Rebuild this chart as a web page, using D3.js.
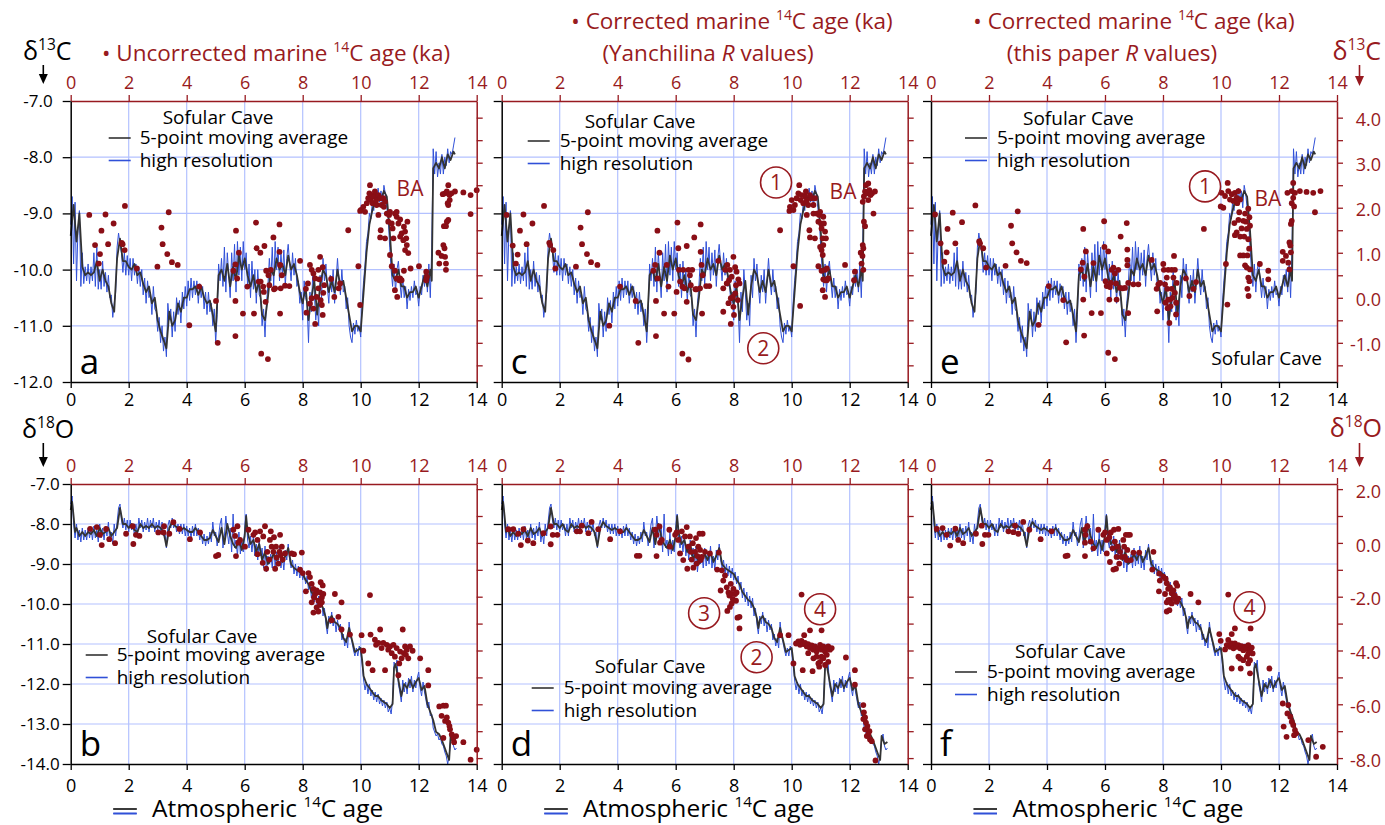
<!DOCTYPE html>
<html>
<head>
<meta charset="utf-8">
<title>Sofular Cave vs marine 14C ages</title>
<script src="https://d3js.org/d3.v7.min.js"></script>
<style>
  body { margin: 0; background: #fff; }
  svg text { font-family: "Open Sans", sans-serif; }
</style>
</head>
<body>
<script>
var w = 1385, h = 825;
var red = "#981a20", dotRed = "#8a0e16", gridBlue = "#b3c1ff", lineBlue = "#3050d8", lineBlack = "#333333";

// ---- tick values ----
var ageTicks = [0, 2, 4, 6, 8, 10, 12, 14];
var d13cTicks = [-7, -8, -9, -10, -11, -12];
var d18oTicks = [-7, -8, -9, -10, -11, -12, -13, -14];
var marineC13Ticks = [4, 3.5, 3, 2.5, 2, 1.5, 1, 0.5, 0, -0.5, -1, -1.5];
var marineO18Ticks = [2, 1, 0, -1, -2, -3, -4, -5, -6, -7, -8];

// ---- Sofular Cave d13C, 5-point moving average [age ka, permil] ----
var d13cMA = [[0,-9.4],[0.1,-8.85],[0.2,-9.5],[0.3,-9.0],[0.4,-9.95],[0.5,-10.1],[0.6,-10.05],[0.7,-10.1],[0.8,-10.05],[0.9,-9.85],
[1.0,-10.2],[1.1,-10.0],[1.2,-10.2],[1.3,-10.3],[1.4,-10.6],[1.5,-10.75],[1.6,-9.8],[1.7,-9.45],[1.8,-9.85],[1.9,-9.85],
[2.0,-9.95],[2.1,-10.0],[2.2,-9.9],[2.3,-10.1],[2.4,-10.05],[2.5,-10.25],[2.6,-10.4],[2.7,-10.3],[2.8,-10.6],[2.9,-10.5],
[3.0,-10.9],[3.1,-11.1],[3.2,-11.25],[3.3,-11.4],[3.4,-10.75],[3.5,-11.0],[3.6,-10.9],[3.7,-10.6],[3.8,-10.75],[3.9,-10.5],
[4.0,-10.5],[4.1,-10.35],[4.2,-10.35],[4.3,-10.3],[4.4,-10.45],[4.5,-10.3],[4.6,-10.5],[4.7,-10.6],[4.8,-10.55],[4.9,-10.8],
[5.0,-11.1],[5.1,-10.1],[5.2,-10.0],[5.3,-10.2],[5.4,-9.9],[5.5,-10.3],[5.6,-9.95],[5.7,-10.2],[5.8,-9.75],[5.9,-10.0],
[6.0,-9.8],[6.1,-10.1],[6.2,-10.3],[6.3,-10.1],[6.4,-10.4],[6.5,-10.2],[6.6,-10.8],[6.7,-10.9],[6.8,-10.5],[6.9,-10.0],
[7.0,-10.1],[7.1,-9.8],[7.2,-10.0],[7.3,-9.9],[7.4,-10.1],[7.5,-9.75],[7.6,-10.0],[7.7,-9.9],[7.8,-10.1],[7.9,-10.4],
[8.0,-10.6],[8.1,-10.3],[8.2,-10.9],[8.3,-10.5],[8.4,-10.2],[8.5,-10.8],[8.6,-10.3],[8.7,-10.0],[8.8,-10.1],[8.9,-10.4],
[9.0,-10.2],[9.1,-10.4],[9.2,-10.0],[9.3,-10.3],[9.4,-10.2],[9.5,-10.5],[9.6,-10.8],[9.7,-11.1],[9.8,-11.0],[9.9,-11.0],
[10.0,-11.1],[10.1,-10.4],[10.2,-9.7],[10.3,-9.2],[10.4,-8.95],[10.5,-8.75],[10.6,-8.7],[10.7,-8.75],[10.8,-8.6],[10.9,-8.7],
[11.0,-9.3],[11.1,-10.1],[11.2,-10.2],[11.3,-10.0],[11.4,-10.3],[11.5,-10.3],[11.6,-10.5],[11.7,-10.4],[11.8,-10.4],[11.9,-10.3],
[12.0,-10.5],[12.1,-10.3],[12.2,-10.1],[12.3,-10.3],[12.4,-10.0],[12.45,-10.2],[12.5,-8.2],[12.6,-8.1],[12.7,-8.2],[12.8,-8.0],
[12.9,-8.2],[13.0,-7.95],[13.1,-8.05],[13.2,-7.9],[13.25,-7.95]];

// ---- Sofular Cave d13C, high resolution ----
var d13cHR = [[0,-9.2],[0.05,-8.7],[0.1,-9.9],[0.15,-8.8],[0.2,-10.2],[0.25,-9.3],[0.3,-8.95],[0.35,-10.3],[0.4,-9.7],[0.45,-10.25],
[0.5,-9.95],[0.55,-10.2],[0.6,-9.9],[0.65,-10.25],[0.7,-9.95],[0.75,-10.2],[0.8,-9.7],[0.85,-10.3],[0.9,-9.6],[0.95,-10.35],
[1.0,-10.0],[1.05,-10.35],[1.1,-9.85],[1.15,-10.3],[1.2,-10.05],[1.25,-10.4],[1.3,-10.1],[1.35,-10.5],[1.4,-10.45],[1.45,-10.85],
[1.5,-10.6],[1.55,-10.4],[1.6,-9.6],[1.65,-9.35],[1.7,-9.55],[1.75,-9.7],[1.8,-10.05],[1.85,-9.7],[1.9,-10.1],[1.95,-9.75],
[2.0,-10.1],[2.05,-9.8],[2.1,-10.2],[2.15,-9.8],[2.2,-10.1],[2.25,-9.9],[2.3,-10.25],[2.35,-9.95],[2.4,-10.3],[2.45,-10.0],
[2.5,-10.45],[2.55,-10.15],[2.6,-10.6],[2.65,-10.2],[2.7,-10.5],[2.75,-10.4],[2.8,-10.8],[2.85,-10.3],[2.9,-10.7],[2.95,-10.75],
[3.0,-11.1],[3.05,-10.85],[3.1,-11.3],[3.15,-11.0],[3.2,-11.45],[3.25,-11.2],[3.3,-11.55],[3.35,-10.6],[3.4,-10.9],[3.45,-10.7],
[3.5,-11.2],[3.55,-10.75],[3.6,-11.1],[3.65,-10.5],[3.7,-10.8],[3.75,-10.55],[3.8,-10.95],[3.85,-10.4],[3.9,-10.7],[3.95,-10.3],
[4.0,-10.65],[4.05,-10.2],[4.1,-10.55],[4.15,-10.15],[4.2,-10.5],[4.25,-10.2],[4.3,-10.45],[4.35,-10.2],[4.4,-10.6],[4.45,-10.25],
[4.5,-10.5],[4.55,-10.3],[4.6,-10.7],[4.65,-10.4],[4.7,-10.8],[4.75,-10.4],[4.8,-10.75],[4.85,-10.6],[4.9,-11.0],[4.95,-10.7],
[5.0,-11.3],[5.05,-10.8],[5.1,-9.9],[5.15,-10.2],[5.2,-9.8],[5.25,-10.3],[5.3,-9.6],[5.35,-10.4],[5.4,-9.7],[5.45,-10.1],
[5.5,-10.5],[5.55,-9.7],[5.6,-10.2],[5.65,-9.55],[5.7,-10.4],[5.75,-9.5],[5.8,-10.1],[5.85,-9.6],[5.9,-10.2],[5.95,-9.5],
[6.0,-10.0],[6.05,-9.7],[6.1,-10.3],[6.15,-9.9],[6.2,-10.5],[6.25,-9.85],[6.3,-10.35],[6.35,-10.0],[6.4,-10.6],[6.45,-10.0],
[6.5,-10.45],[6.55,-10.5],[6.6,-11.0],[6.65,-10.7],[6.7,-11.2],[6.75,-10.6],[6.8,-10.3],[6.85,-9.8],[6.9,-10.2],[6.95,-9.6],
[7.0,-10.3],[7.05,-9.5],[7.1,-10.0],[7.15,-9.6],[7.2,-10.2],[7.25,-9.7],[7.3,-10.1],[7.35,-9.65],[7.4,-10.3],[7.45,-9.8],
[7.5,-9.55],[7.55,-9.9],[7.6,-10.2],[7.65,-9.7],[7.7,-10.1],[7.75,-9.8],[7.8,-10.3],[7.85,-10.2],[7.9,-10.6],[7.95,-10.4],
[8.0,-10.9],[8.05,-10.2],[8.1,-10.5],[8.15,-10.6],[8.2,-11.3],[8.25,-10.4],[8.3,-10.75],[8.35,-10.0],[8.4,-10.4],[8.45,-10.9],
[8.5,-10.6],[8.55,-11.0],[8.6,-10.1],[8.65,-10.5],[8.7,-9.8],[8.75,-10.2],[8.8,-9.9],[8.85,-10.3],[8.9,-10.6],[8.95,-10.1],
[9.0,-10.4],[9.05,-10.0],[9.1,-10.6],[9.15,-10.2],[9.2,-9.8],[9.25,-10.2],[9.3,-10.45],[9.35,-10.0],[9.4,-10.4],[9.45,-10.3],
[9.5,-10.7],[9.55,-10.5],[9.6,-11.0],[9.65,-11.2],[9.7,-11.3],[9.75,-10.95],[9.8,-11.15],[9.85,-10.9],[9.9,-11.1],[9.95,-11.0],
[10.0,-11.2],[10.05,-10.6],[10.1,-10.2],[10.15,-9.9],[10.2,-9.5],[10.25,-9.35],[10.3,-9.0],[10.35,-9.1],[10.4,-8.8],[10.45,-8.95],
[10.5,-8.6],[10.55,-8.85],[10.6,-8.55],[10.65,-8.8],[10.7,-8.6],[10.75,-8.9],[10.8,-8.5],[10.85,-8.65],[10.9,-8.9],[10.95,-9.1],
[11.0,-9.6],[11.05,-10.0],[11.1,-10.3],[11.15,-9.9],[11.2,-10.4],[11.25,-10.0],[11.3,-9.85],[11.35,-10.2],[11.4,-10.5],[11.45,-10.15],
[11.5,-10.5],[11.55,-10.3],[11.6,-10.7],[11.65,-10.35],[11.7,-10.55],[11.75,-10.3],[11.8,-10.5],[11.85,-10.2],[11.9,-10.45],[11.95,-10.4],
[12.0,-10.65],[12.05,-10.3],[12.1,-10.45],[12.15,-10.1],[12.2,-10.3],[12.25,-10.0],[12.3,-10.4],[12.35,-9.9],[12.4,-10.5],[12.45,-9.6],
[12.5,-7.85],[12.55,-8.3],[12.6,-7.9],[12.65,-8.35],[12.7,-8.1],[12.75,-8.3],[12.8,-7.95],[12.85,-8.3],[12.9,-8.0],[12.95,-8.15],
[13.0,-7.85],[13.05,-8.1],[13.1,-7.9],[13.15,-7.95],[13.2,-7.8],[13.25,-7.65]];

// ---- Sofular Cave d18O, 5-point moving average ----
var d18oMA = [[0,-7.65],[0.05,-7.45],[0.1,-7.8],[0.15,-8.2],[0.2,-8.1],[0.3,-8.3],[0.4,-8.2],[0.5,-8.3],[0.6,-8.2],[0.7,-8.25],
[0.8,-8.15],[0.9,-8.3],[1.0,-8.1],[1.1,-8.25],[1.2,-8.2],[1.3,-8.1],[1.4,-8.3],[1.5,-8.2],[1.6,-8.1],[1.7,-7.6],
[1.8,-8.0],[1.9,-8.0],[2.0,-8.1],[2.1,-8.0],[2.2,-8.15],[2.3,-8.2],[2.4,-8.0],[2.5,-8.1],[2.6,-8.05],[2.7,-8.1],
[2.8,-8.0],[2.9,-8.1],[3.0,-8.05],[3.1,-8.1],[3.2,-8.2],[3.3,-8.55],[3.4,-8.1],[3.5,-7.95],[3.6,-8.05],[3.7,-8.1],
[3.8,-8.15],[3.9,-8.1],[4.0,-8.15],[4.1,-8.2],[4.2,-8.2],[4.3,-8.1],[4.4,-8.2],[4.5,-8.3],[4.6,-8.4],[4.7,-8.4],
[4.8,-8.35],[4.9,-8.15],[5.0,-8.3],[5.1,-8.45],[5.2,-8.1],[5.3,-8.5],[5.4,-8.0],[5.5,-8.3],[5.6,-8.5],[5.7,-8.6],
[5.8,-8.4],[5.9,-8.65],[6.0,-8.3],[6.05,-7.8],[6.1,-8.2],[6.2,-8.5],[6.3,-8.4],[6.4,-8.7],[6.5,-8.5],[6.6,-8.9],
[6.7,-8.7],[6.8,-9.0],[6.9,-8.9],[7.0,-8.75],[7.1,-8.9],[7.2,-8.7],[7.3,-8.95],[7.4,-8.8],[7.5,-8.6],[7.6,-9.0],
[7.7,-9.1],[7.8,-9.15],[7.9,-9.2],[8.0,-9.25],[8.1,-9.4],[8.2,-9.5],[8.3,-9.7],[8.4,-9.8],[8.5,-9.9],[8.6,-9.95],
[8.7,-10.1],[8.8,-10.35],[8.85,-10.6],[8.9,-10.4],[9.0,-10.3],[9.1,-10.45],[9.2,-10.5],[9.3,-10.6],[9.4,-10.85],[9.5,-10.95],
[9.6,-10.6],[9.7,-10.9],[9.8,-11.2],[9.9,-11.15],[10.0,-11.1],[10.05,-11.4],[10.1,-11.8],[10.2,-12.0],[10.3,-12.1],[10.4,-12.2],
[10.5,-12.3],[10.6,-12.3],[10.7,-12.4],[10.8,-12.45],[10.9,-12.5],[11.0,-12.6],[11.1,-12.5],[11.15,-11.6],[11.2,-11.5],[11.3,-11.9],
[11.4,-12.3],[11.5,-12.0],[11.6,-12.1],[11.7,-11.9],[11.8,-12.1],[11.9,-11.95],[12.0,-11.85],[12.1,-12.15],[12.2,-12.05],[12.3,-12.5],
[12.4,-12.7],[12.5,-12.9],[12.6,-13.2],[12.7,-13.25],[12.8,-13.4],[12.9,-13.6],[13.0,-13.8],[13.05,-13.9],[13.1,-13.3],[13.2,-13.5],
[13.3,-13.45]];

// ---- Sofular Cave d18O, high resolution ----
var d18oHR = [[0,-7.5],[0.05,-7.3],[0.1,-8.0],[0.15,-8.35],[0.2,-8.0],[0.25,-8.4],[0.3,-8.15],[0.35,-8.45],[0.4,-8.1],[0.45,-8.4],
[0.5,-8.15],[0.55,-8.4],[0.6,-8.1],[0.65,-8.35],[0.7,-8.1],[0.75,-8.4],[0.8,-8.05],[0.85,-8.35],[0.9,-8.15],[0.95,-8.45],
[1.0,-8.0],[1.05,-8.35],[1.1,-8.1],[1.15,-8.4],[1.2,-8.05],[1.25,-8.3],[1.3,-7.95],[1.35,-8.45],[1.4,-8.2],[1.45,-8.5],
[1.5,-8.0],[1.55,-8.3],[1.6,-7.95],[1.65,-7.6],[1.7,-7.5],[1.75,-7.9],[1.8,-8.1],[1.85,-7.85],[1.9,-8.15],[1.95,-7.9],
[2.0,-8.2],[2.05,-7.9],[2.1,-8.15],[2.15,-8.0],[2.2,-8.3],[2.25,-8.0],[2.3,-8.3],[2.35,-7.85],[2.4,-8.1],[2.45,-7.9],
[2.5,-8.2],[2.55,-7.95],[2.6,-8.15],[2.65,-7.85],[2.7,-8.2],[2.75,-7.9],[2.8,-8.1],[2.85,-7.85],[2.9,-8.2],[2.95,-7.95],
[3.0,-8.15],[3.05,-7.9],[3.1,-8.2],[3.15,-7.95],[3.2,-8.3],[3.25,-8.2],[3.3,-8.6],[3.35,-8.05],[3.4,-7.9],[3.45,-8.1],
[3.5,-7.85],[3.55,-8.1],[3.6,-7.9],[3.65,-8.2],[3.7,-8.0],[3.75,-8.25],[3.8,-8.0],[3.85,-8.25],[3.9,-8.0],[3.95,-8.3],
[4.0,-8.05],[4.05,-8.3],[4.1,-8.1],[4.15,-8.35],[4.2,-8.05],[4.25,-8.3],[4.3,-8.0],[4.35,-8.3],[4.4,-8.1],[4.45,-8.4],
[4.5,-8.2],[4.55,-8.5],[4.6,-8.25],[4.65,-8.55],[4.7,-8.3],[4.75,-8.5],[4.8,-8.2],[4.85,-8.45],[4.9,-7.95],[4.95,-8.3],
[5.0,-8.2],[5.05,-8.55],[5.1,-8.3],[5.15,-8.0],[5.2,-7.85],[5.25,-8.6],[5.3,-8.3],[5.35,-7.8],[5.4,-8.2],[5.45,-8.5],
[5.5,-8.1],[5.55,-8.7],[5.6,-7.75],[5.65,-8.6],[5.7,-8.4],[5.75,-8.8],[5.8,-8.2],[5.85,-8.75],[5.9,-8.4],[5.95,-8.7],
[6.0,-8.1],[6.05,-7.75],[6.1,-8.4],[6.15,-8.6],[6.2,-8.3],[6.25,-8.7],[6.3,-8.3],[6.35,-8.8],[6.4,-8.5],[6.45,-8.9],
[6.5,-8.4],[6.55,-8.8],[6.6,-8.6],[6.65,-9.1],[6.7,-8.55],[6.75,-9.2],[6.8,-8.8],[6.85,-9.0],[6.9,-8.75],[6.95,-9.1],
[7.0,-8.6],[7.05,-9.05],[7.1,-8.7],[7.15,-9.0],[7.2,-8.55],[7.25,-9.1],[7.3,-8.8],[7.35,-9.15],[7.4,-8.65],[7.45,-8.9],
[7.5,-8.5],[7.55,-8.9],[7.6,-9.1],[7.65,-8.9],[7.7,-9.25],[7.75,-9.0],[7.8,-9.3],[7.85,-9.05],[7.9,-9.35],[7.95,-9.1],
[8.0,-9.4],[8.05,-9.2],[8.1,-9.5],[8.15,-9.3],[8.2,-9.65],[8.25,-9.45],[8.3,-9.85],[8.35,-9.6],[8.4,-9.95],[8.45,-9.7],
[8.5,-10.05],[8.55,-9.8],[8.6,-10.1],[8.65,-9.85],[8.7,-10.3],[8.75,-10.1],[8.8,-10.5],[8.85,-10.75],[8.9,-10.3],[8.95,-10.5],
[9.0,-10.2],[9.05,-10.55],[9.1,-10.35],[9.15,-10.7],[9.2,-10.4],[9.25,-10.65],[9.3,-10.5],[9.35,-10.9],[9.4,-10.75],[9.45,-11.05],
[9.5,-10.85],[9.55,-11.1],[9.6,-10.45],[9.65,-10.8],[9.7,-10.95],[9.75,-11.15],[9.8,-11.3],[9.85,-11.1],[9.9,-11.3],[9.95,-11.05],
[10.0,-11.2],[10.05,-11.5],[10.1,-11.9],[10.15,-12.15],[10.2,-11.95],[10.25,-12.25],[10.3,-12.0],[10.35,-12.3],[10.4,-12.15],[10.45,-12.4],
[10.5,-12.2],[10.55,-12.45],[10.6,-12.25],[10.65,-12.5],[10.7,-12.35],[10.75,-12.55],[10.8,-12.4],[10.85,-12.6],[10.9,-12.45],[10.95,-12.7],
[11.0,-12.6],[11.05,-12.75],[11.1,-12.4],[11.15,-11.45],[11.2,-11.6],[11.25,-11.4],[11.3,-12.0],[11.35,-12.2],[11.4,-12.45],[11.45,-11.9],
[11.5,-12.2],[11.55,-11.95],[11.6,-12.25],[11.65,-11.85],[11.7,-12.1],[11.75,-11.8],[11.8,-12.2],[11.85,-11.9],[11.9,-12.1],[11.95,-11.85],
[12.0,-11.7],[12.05,-12.1],[12.1,-12.3],[12.15,-11.95],[12.2,-12.2],[12.25,-12.4],[12.3,-12.6],[12.35,-12.45],[12.4,-12.8],[12.45,-12.75],
[12.5,-13.1],[12.55,-13.2],[12.6,-13.3],[12.65,-13.25],[12.7,-13.4],[12.75,-13.35],[12.8,-13.5],[12.85,-13.55],[12.9,-13.7],[12.95,-13.8],
[13.0,-14.0],[13.05,-13.8],[13.1,-13.4],[13.15,-13.25],[13.2,-13.55],[13.25,-13.65],[13.3,-13.6]];

// ---- marine d13C points [marine 14C age ka, permil] ----
var ptsA = [[0.64,1.84],[0.84,1.17],[0.97,0.76],[1.01,0.97],[1.06,1.49],[1.2,1.85],[1.29,1.19],[1.48,1.65],[1.87,2.04],[1.76,1.22],
[1.79,1.19],[1.86,1.06],[2.28,0.65],[2.99,0.69],[3.13,1.56],[3.17,1.19],[3.33,0.97],[3.38,1.9],[3.49,0.79],[3.69,0.73],
[4.43,0.25],[4.09,-0.61],[5.01,-0.07],[5.07,-1.0],[5.61,0.6],[5.68,-0.07],[5.7,1.49],[5.68,0.74],[5.74,0.43],[5.8,1.0],
[5.68,-0.85],[5.94,-0.35],[6.09,0.25],[6.39,1.67],[6.41,1.1],[6.32,-0.35],[6.54,1.0],[6.55,0.36],[6.68,1.15],[6.48,0.36],
[6.64,0.25],[6.66,0.13],[6.57,-1.24],[6.8,-1.36],[6.72,-0.09],[6.74,0.6],[6.82,0.5],[6.85,0.28],[6.9,0.62],[6.99,1.34],
[7.01,0.19],[7.05,0.21],[7.2,1.63],[7.2,1.02],[7.22,0.73],[7.22,-0.35],[7.28,0.5],[7.24,0.21],[7.39,0.27],[7.54,0.26],
[7.91,0.82],[8.25,0.73],[8.31,0.62],[8.37,0.54],[8.43,0.43],[8.11,0.2],[8.13,-0.33],[8.25,-0.13],[8.31,-0.01],[8.37,-0.24],
[8.43,-0.58],[8.48,0.02],[8.54,0.62],[8.57,0.41],[8.6,0.91],[8.62,-0.05],[8.66,-0.16],[8.69,-0.38],[8.69,0.68],[8.71,0.11],
[8.74,0.28],[8.18,0.32],[8.54,0.21],[8.98,0.42],[9.09,0.02],[9.24,0.21],[9.29,0.32],[9.57,1.5],[9.92,0.7],[9.98,1.93],
[9.98,-0.16],[10.01,1.95],[10.09,2.02],[10.15,1.91],[10.21,2.1],[10.26,2.21],[10.3,2.32],[10.32,2.5],[10.34,2.17],[10.38,2.28],
[10.41,2.1],[10.46,2.25],[10.49,2.36],[10.53,2.16],[10.55,2.06],[10.61,2.28],[10.67,2.21],[10.72,2.06],[10.78,2.21],[10.84,2.13],
[10.61,1.84],[10.69,1.5],[10.67,1.34],[10.8,2.02],[10.84,1.32],[10.9,1.87],[10.95,1.69],[10.98,1.84],[11.01,1.91],[11.07,1.65],
[11.1,1.54],[11.01,0.95],[11.13,1.32],[11.18,1.87],[11.24,1.8],[11.3,1.65],[11.36,1.36],[11.41,1.43],[11.49,1.58],[11.53,1.47],
[11.57,1.32],[11.59,1.17],[11.61,1.69],[11.53,1.06],[11.64,0.99],[11.47,1.28],[11.24,1.91],[11.36,1.74],[11.07,0.7],[11.18,0.6],
[11.24,0.43],[11.33,0.39],[11.18,0.17],[11.26,0.02],[11.36,0.43],[11.41,0.39],[11.49,0.6],[11.72,0.65],[12.01,0.7],[12.26,0.58],
[12.26,0.39],[12.28,0.47],[12.68,1.0],[12.71,0.76],[12.79,0.93],[12.85,1.17],[12.89,1.1],[12.91,0.91],[12.94,0.76],[12.94,0.62],
[12.87,1.59],[12.94,1.59],[12.97,1.69],[13.02,1.73],[12.83,2.3],[12.91,2.32],[12.97,2.36],[13.02,2.5],[13.06,2.28],[13.07,2.17],
[13.02,2.06],[13.13,2.32],[13.0,2.1],[13.25,2.36],[13.54,2.34],[13.79,2.28],[13.79,1.86],[14.0,2.39]];

var ptsC = [[0.17,1.84],[0.38,1.16],[0.49,0.76],[0.55,0.96],[0.63,1.49],[0.75,1.85],[0.86,1.19],[1.06,1.65],[1.46,2.04],[1.64,1.22],
[1.67,1.17],[1.78,1.06],[1.85,0.65],[2.56,0.69],[2.72,1.56],[2.77,1.19],[2.94,0.97],[2.97,1.9],[3.08,0.79],[3.3,0.73],
[3.71,-0.62],[4.08,0.25],[4.71,-1.0],[4.62,-0.07],[5.23,0.6],[5.29,0.73],[5.32,-0.07],[5.32,-0.85],[5.37,1.49],[5.38,0.43],
[5.44,1.0],[5.6,-0.35],[5.75,0.25],[5.69,0.73],[5.95,-0.35],[6.06,1.67],[6.03,0.13],[6.09,1.1],[6.11,0.62],[6.15,0.36],
[6.23,0.25],[6.23,-1.24],[6.26,0.62],[6.3,0.21],[6.38,1.15],[6.38,-0.09],[6.44,0.62],[6.44,-1.37],[6.49,0.5],[6.52,0.28],
[6.57,0.62],[6.64,1.34],[6.68,0.19],[6.72,0.19],[6.86,1.63],[6.86,1.02],[6.89,0.73],[6.91,-0.35],[6.93,0.5],[6.84,0.21],
[7.05,0.26],[7.16,0.26],[7.47,0.82],[7.64,-0.31],[7.64,0.21],[7.71,0.62],[7.76,0.32],[7.78,0.73],[7.82,-0.12],[7.84,0.39],
[7.87,0.62],[7.9,-0.01],[7.9,-0.58],[7.93,0.47],[7.97,0.02],[7.99,0.91],[7.99,-0.2],[8.01,-0.38],[8.05,0.68],[8.05,0.1],
[8.08,0.28],[8.1,0.58],[8.14,-0.05],[8.16,0.41],[8.2,0.32],[9.6,1.5],[10.06,0.7],[10.29,-0.18],[9.92,1.93],[9.94,2.02],
[10.0,2.17],[10.06,1.95],[10.11,2.06],[10.17,2.21],[10.23,2.32],[10.26,2.5],[10.31,2.17],[10.34,2.28],[10.4,2.1],[10.46,2.25],
[10.49,2.36],[10.52,2.16],[10.57,2.06],[10.63,2.28],[10.67,2.21],[10.52,1.84],[10.75,2.06],[10.8,2.21],[10.61,1.5],[10.63,1.34],
[10.75,1.87],[10.8,1.32],[10.86,1.87],[10.92,1.69],[10.95,1.84],[10.98,1.91],[11.01,1.65],[11.03,1.54],[10.92,0.7],[11.07,1.32],
[11.09,1.8],[11.11,1.65],[11.15,1.47],[11.18,1.32],[11.09,1.17],[11.03,1.06],[11.07,0.95],[10.98,1.13],[11.15,0.62],[11.21,0.65],
[11.09,0.41],[11.15,0.39],[11.07,0.17],[11.15,0.02],[11.21,0.39],[11.26,0.43],[11.03,0.6],[11.84,0.73],[12.15,0.39],[12.18,0.58],
[12.38,1.0],[12.41,0.76],[12.44,0.93],[12.45,1.17],[12.47,1.1],[12.47,0.62],[12.49,1.69],[12.53,1.59],[12.45,2.13],[12.49,2.25],
[12.53,2.36],[12.56,2.5],[12.61,2.32],[12.64,2.17],[12.68,2.39],[12.72,2.28],[12.77,2.32],[12.82,1.87],[12.87,2.36],[12.64,2.54]];

var ptsE = [[0.14,1.85],[0.33,1.21],[0.46,0.8],[0.54,1.01],[0.57,1.53],[0.75,1.89],[0.84,1.21],[1.07,1.68],[1.53,2.05],[1.66,1.25],
[1.69,1.21],[1.8,1.1],[1.9,0.67],[2.57,0.71],[2.76,1.6],[2.8,1.21],[2.95,1.01],[2.99,1.92],[3.1,0.82],[3.3,0.77],
[3.71,-0.6],[4.06,0.26],[4.56,-0.05],[4.66,-0.99],[5.25,1.53],[5.23,0.78],[5.25,-0.04],[5.28,-0.84],[5.17,0.63],[5.29,0.47],
[5.34,1.03],[5.54,-0.34],[5.6,0.77],[5.86,-0.34],[5.97,1.7],[5.98,1.13],[6.02,0.37],[6.06,0.26],[6.11,1.03],[6.11,-1.22],
[6.15,-0.04],[6.17,0.24],[6.2,0.33],[6.23,0.62],[6.29,0.67],[6.34,0.54],[6.34,-1.36],[6.38,0.32],[6.4,-0.04],[6.46,0.62],
[6.52,0.22],[6.54,1.36],[6.61,0.21],[6.69,0.22],[6.75,1.66],[6.77,1.07],[6.77,0.84],[6.77,0.72],[6.8,-0.34],[6.8,0.33],
[6.98,0.3],[7.15,0.3],[7.61,0.84],[7.78,0.2],[7.8,-0.3],[7.84,0.3],[7.9,0.33],[8.01,0.75],[8.03,0.62],[8.07,0.3],
[8.09,-0.11],[8.13,0.45],[8.15,0.2],[8.16,-0.23],[8.18,0.62],[8.18,-0.04],[8.22,-0.56],[8.24,-0.04],[8.26,-0.19],[8.3,0.62],
[8.3,0.2],[8.33,0.0],[8.36,0.45],[8.38,0.93],[8.41,0.62],[8.41,0.11],[8.45,-0.37],[8.45,-0.11],[8.47,0.33],[8.79,0.43],
[8.91,0.04],[9.05,0.2],[9.14,0.35],[9.41,1.53],[10.17,0.75],[10.22,-0.15],[10.23,2.55],[10.02,2.33],[10.14,2.26],[10.25,2.37],
[10.31,2.18],[10.37,2.3],[10.43,2.15],[10.48,2.33],[10.54,2.22],[10.6,2.37],[10.66,2.18],[9.99,2.03],[10.08,2.0],[10.56,2.1],
[10.46,1.66],[10.48,1.39],[10.54,1.45],[10.6,1.73],[10.63,1.9],[10.66,1.36],[10.71,1.54],[10.77,1.71],[10.8,1.36],[10.83,1.87],
[10.86,1.69],[10.89,1.53],[10.91,0.94],[10.94,1.98],[10.94,1.3],[10.97,1.09],[10.98,1.79],[11.0,1.6],[10.66,0.94],[10.77,0.94],
[10.83,0.72],[10.89,0.67],[10.94,0.45],[10.98,0.37],[10.91,0.2],[10.95,0.04],[11.0,0.63],[11.34,0.75],[11.63,0.6],[11.63,0.41],
[12.13,0.82],[12.13,1.02],[12.24,0.93],[12.32,0.78],[12.36,0.63],[12.36,1.23],[12.39,1.16],[12.41,1.64],[12.44,1.71],[12.41,1.01],
[12.49,2.55],[12.29,2.33],[12.44,2.37],[12.49,2.22],[12.55,2.33],[12.72,2.37],[12.95,2.35],[13.18,2.33],[13.43,2.37],[12.44,2.1],
[12.52,2.03],[13.24,1.9]];

// ---- marine d18O points ----
var ptsB = [[0.67,0.52],[0.9,0.59],[1.01,0.3],[1.07,-0.08],[1.22,0.52],[1.33,0.14],[1.53,-0.01],[1.91,0.34],[2.14,0.62],[2.16,-0.04],
[2.25,0.3],[2.37,0.26],[3.02,0.39],[3.2,0.39],[3.22,0.62],[3.4,0.34],[3.54,0.77],[3.75,0.52],[4.11,0.14],[4.46,0.39],
[5.01,-0.49],[5.09,-0.45],[5.61,0.49],[5.67,0.26],[5.75,0.62],[5.78,0.01],[5.7,-0.49],[5.84,0.11],[6.01,-0.14],[6.13,0.49],
[6.3,0.3],[6.36,0.39],[6.44,0.11],[6.44,-0.42],[6.53,0.43],[6.64,0.24],[6.62,-0.74],[6.7,0.62],[6.74,-0.96],[6.78,-0.33],
[6.85,-0.62],[6.87,0.11],[6.9,0.43],[6.93,-0.14],[6.99,-0.33],[7.01,0.21],[7.05,-0.96],[7.08,-0.14],[7.1,-0.54],[7.16,-0.77],
[7.22,0.3],[7.2,-0.33],[7.24,-0.45],[7.28,-0.14],[7.31,-0.62],[7.39,-0.39],[7.62,-0.39],[7.7,-0.42],[7.97,-0.36],[7.91,-0.99],
[8.0,-1.12],[8.2,-1.12],[8.25,-1.27],[8.31,-1.52],[8.11,-1.8],[8.37,-1.71],[8.43,-1.9],[8.48,-1.77],[8.54,-2.15],[8.6,-1.84],
[8.62,-1.46],[8.66,-2.03],[8.69,-1.58],[8.71,-1.9],[8.31,-2.21],[8.37,-2.59],[8.48,-2.4],[8.54,-2.55],[8.6,-2.3],[8.66,-2.21],
[8.39,-2.03],[9.11,-1.9],[9.34,-2.21],[10.32,-1.94],[9.0,-2.88],[9.23,-2.75],[9.34,-3.22],[9.63,-3.41],[10.03,-3.43],[10.09,-4.01],
[10.26,-4.48],[10.34,-3.41],[10.41,-4.73],[10.49,-3.6],[10.53,-3.79],[10.61,-3.72],[10.67,-3.22],[10.72,-3.91],[10.78,-3.72],[10.84,-4.73],
[10.9,-3.79],[10.95,-3.97],[11.01,-3.85],[11.07,-4.1],[11.13,-3.79],[11.18,-4.23],[11.24,-3.91],[11.3,-4.92],[11.33,-4.48],[11.36,-4.04],
[11.41,-4.29],[11.45,-3.22],[11.49,-4.1],[11.53,-3.85],[11.56,-4.16],[11.59,-3.97],[11.64,-4.29],[11.7,-3.85],[11.79,-4.01],[12.05,-4.29],
[12.33,-4.73],[12.33,-5.3],[12.71,-6.08],[12.79,-6.43],[12.85,-6.05],[12.91,-6.62],[12.94,-6.05],[12.97,-6.49],[13.02,-6.68],[13.06,-6.81],
[13.08,-6.93],[13.14,-7.12],[13.2,-7.25],[13.29,-7.18],[12.85,-7.25],[13.22,-7.41],[13.54,-7.41],[13.79,-8.06],[14.0,-7.69]];

var ptsD = [[0.23,0.51],[0.4,0.51],[0.57,0.34],[0.66,-0.08],[0.75,0.51],[0.9,0.09],[1.09,-0.01],[1.44,0.36],[1.69,0.61],[1.69,-0.05],
[1.76,0.3],[1.92,0.3],[2.59,0.43],[2.7,0.43],[2.76,0.64],[2.99,0.36],[3.1,0.78],[3.33,0.51],[3.74,0.14],[4.08,0.43],
[4.66,-0.48],[4.75,-0.48],[5.29,0.49],[5.34,0.3],[5.44,0.61],[5.46,0.01],[5.34,-0.49],[5.52,0.11],[5.78,0.49],[5.8,-0.14],
[5.98,0.3],[6.03,0.39],[6.09,0.11],[6.15,-0.39],[6.21,0.43],[6.26,-0.64],[6.32,0.24],[6.38,0.59],[6.4,-0.96],[6.44,-0.14],
[6.49,0.24],[6.52,-0.33],[6.55,-0.62],[6.59,-0.01],[6.61,-0.92],[6.67,-0.33],[6.7,0.18],[6.72,-0.77],[6.75,-0.49],[6.78,-0.14],
[6.82,0.34],[6.84,-0.26],[6.86,-0.64],[6.9,-0.52],[6.93,0.34],[7.01,-0.33],[7.18,-0.39],[7.49,-0.36],[7.43,-0.99],[7.59,-1.02],
[7.64,-1.4],[7.7,-1.21],[7.55,-1.77],[7.76,-1.65],[7.82,-1.84],[7.85,-1.96],[7.9,-1.52],[7.93,-1.9],[7.97,-2.09],[7.99,-1.71],
[8.05,-1.9],[8.08,-2.15],[8.1,-1.84],[7.78,-2.53],[7.87,-2.38],[7.93,-2.25],[8.13,-2.78],[8.2,-2.75],[8.2,-3.18],[9.6,-3.43],
[9.89,-3.43],[10.15,-3.74],[10.06,-4.48],[10.38,-4.73],[10.34,-1.92],[10.43,-3.43],[10.63,-3.25],[10.72,-4.77],[11.03,-3.25],[11.87,-4.26],
[10.23,-3.66],[10.29,-3.79],[10.34,-3.64],[10.4,-3.76],[10.46,-3.72],[10.52,-3.85],[10.57,-3.76],[10.63,-3.91],[10.69,-3.81],[10.75,-3.97],
[10.8,-3.85],[10.86,-4.04],[10.92,-3.91],[10.98,-3.79],[11.03,-3.97],[11.09,-3.85],[11.15,-4.04],[11.21,-3.91],[11.26,-3.85],[11.32,-3.97],
[11.38,-3.91],[10.57,-4.1],[10.75,-4.29],[10.86,-4.23],[10.92,-4.48],[10.98,-4.42],[11.03,-4.23],[11.09,-4.29],[11.15,-4.54],[11.21,-4.16],
[11.26,-4.42],[10.95,-4.6],[12.18,-4.73],[12.18,-5.27],[12.47,-6.03],[12.49,-6.3],[12.53,-6.49],[12.56,-6.68],[12.59,-6.93],[12.61,-6.81],
[12.64,-7.12],[12.68,-7.0],[12.7,-7.31],[12.59,-7.18],[12.76,-7.37],[12.89,-8.09],[12.47,-6.55],[12.53,-6.93]];

var ptsF = [[0.2,0.52],[0.4,0.55],[0.54,0.3],[0.66,-0.1],[0.84,0.53],[0.94,0.11],[1.11,-0.01],[1.55,0.34],[1.75,0.64],[1.77,-0.04],
[1.86,0.3],[1.98,0.3],[2.67,0.43],[2.84,0.4],[2.9,0.64],[3.01,0.34],[3.18,0.78],[3.39,0.49],[3.78,0.14],[4.16,0.43],
[4.64,-0.49],[4.71,-0.47],[5.31,0.49],[5.33,0.3],[5.39,0.62],[5.31,0.01],[5.31,-0.49],[5.51,0.05],[5.6,-0.2],[5.77,0.49],
[5.94,0.3],[6.0,0.39],[6.06,0.11],[6.06,-0.39],[6.15,0.21],[6.17,-0.71],[6.2,0.39],[6.26,-0.2],[6.29,-0.99],[6.31,0.49],
[6.34,0.05],[6.38,-0.96],[6.4,-0.52],[6.43,-0.14],[6.46,0.52],[6.49,-0.77],[6.52,-0.33],[6.57,-0.52],[6.63,0.11],[6.66,-0.14],
[6.69,-0.52],[6.72,0.3],[6.75,-0.64],[6.77,-0.26],[6.8,0.3],[6.86,0.3],[6.89,-0.64],[6.98,-0.36],[7.18,-0.36],[7.67,-0.33],
[7.63,-0.99],[7.87,-1.14],[8.01,-1.25],[8.09,-1.33],[7.89,-1.4],[8.13,-1.5],[8.18,-1.71],[8.24,-1.65],[8.3,-1.87],[8.36,-1.77],
[8.41,-1.96],[8.45,-1.5],[8.49,-1.59],[7.86,-1.8],[8.07,-1.9],[8.13,-2.21],[8.24,-2.12],[8.36,-2.05],[8.13,-2.55],[8.22,-2.5],
[8.95,-1.9],[9.22,-2.21],[10.25,-1.92],[8.18,-2.13],[8.3,-2.25],[8.47,-2.19],[8.53,-2.07],[9.94,-3.39],[9.99,-3.64],[10.37,-3.39],
[10.48,-3.18],[11.02,-3.18],[10.14,-3.96],[10.2,-3.8],[10.25,-3.61],[10.31,-3.86],[10.37,-3.74],[10.43,-3.92],[10.48,-3.74],[10.54,-3.86],
[10.6,-3.8],[10.66,-3.92],[10.71,-3.84],[10.77,-3.99],[10.83,-3.86],[10.89,-3.92],[10.94,-3.8],[11.0,-3.99],[11.06,-3.89],[11.09,-4.11],
[10.6,-4.23],[10.66,-4.3],[10.77,-4.36],[10.89,-4.23],[11.0,-4.36],[10.94,-4.48],[10.37,-4.67],[10.68,-4.67],[11.0,-4.85],[10.94,-4.11],
[11.67,-4.67],[12.13,-5.97],[12.32,-6.03],[12.29,-6.34],[12.39,-6.46],[12.44,-6.65],[12.49,-6.77],[12.55,-6.96],[12.16,-6.83],[12.59,-7.08],
[12.26,-7.21],[12.52,-7.15],[13.01,-7.33],[13.51,-7.58],[13.28,-7.95]];

// ---- layout ----
var colX = [70.7, 501.7, 931], panelW = 406;
var rowY = [101, 484], rowH = [281, 280];
var leftDomain = [[-7, -12], [-7, -14]];
var rightDomain = [[4.37, -1.87], [2.19, -8.22]];
var leftTicks = [d13cTicks, d18oTicks];
var rightTicks = [marineC13Ticks, marineO18Ticks];
var lineMA = [d13cMA, d18oMA], lineHR = [d13cHR, d18oHR];

var panels = [
  {id: "a", row: 0, col: 0, pts: ptsA, leg: {sx: 92, sy: 23, lx: 38, ly: 37, tx: 69},
   notes: [{k: "t", t: 11.7, v: -8.55, s: "BA"}]},
  {id: "c", row: 0, col: 1, pts: ptsC, leg: {sx: 83, sy: 27, lx: 26, ly: 40, tx: 58},
   notes: [{k: "c", t: 9.46, v: -8.45, s: "1"}, {k: "c", t: 9.02, v: -11.4, s: "2"}, {k: "t", t: 11.77, v: -8.61, s: "BA"}]},
  {id: "e", row: 0, col: 2, pts: ptsE, leg: {sx: 92, sy: 24, lx: 34, ly: 37, tx: 66},
   notes: [{k: "c", t: 9.45, v: -8.52, s: "1"}, {k: "t", t: 11.62, v: -8.73, s: "BA"}, {k: "s", t: 13.48, v: -11.7, s: "Sofular Cave"}]},
  {id: "b", row: 1, col: 0, pts: ptsB, leg: {sx: 76, sy: 159, lx: 15, ly: 171, tx: 46}, notes: []},
  {id: "d", row: 1, col: 1, pts: ptsD, leg: {sx: 93, sy: 189, lx: 30, ly: 204, tx: 62},
   notes: [{k: "c", t: 6.98, v: -10.23, s: "3"}, {k: "c", t: 10.98, v: -10.13, s: "4"}, {k: "c", t: 8.79, v: -11.33, s: "2"}]},
  {id: "f", row: 1, col: 2, pts: ptsF, leg: {sx: 84, sy: 174, lx: 24, ly: 188, tx: 56},
   notes: [{k: "c", t: 10.98, v: -10.08, s: "4"}]}
];

var svg = d3.select("body").append("svg")
  .attr("width", w).attr("height", h);

function fmt1(v) { return v.toFixed(1); }

function richText(g, x, y, size, color, anchor, parts) {
  var t = g.append("text").attr("x", x).attr("y", y)
    .attr("font-size", size).attr("fill", color).attr("text-anchor", anchor);
  var up = 0;
  parts.forEach(function(p) {
    var s = t.append("tspan").text(p.s);
    if (p.sup) {
      s.attr("font-size", size * 0.62).attr("dy", -size * 0.4);
      up = size * 0.4;
    } else if (up) {
      s.attr("dy", up);
      up = 0;
    }
    if (p.it) s.attr("font-style", "italic");
  });
  return t;
}

function styleAxis(g, color, fs) {
  g.attr("font-family", null).attr("font-size", fs).attr("color", color);
  g.select(".domain").attr("stroke-width", 1.5);
  g.selectAll(".tick line").attr("stroke-width", 1.3);
}

function drawPanel(p) {
  var x0 = colX[p.col], y0 = rowY[p.row], ph = rowH[p.row];
  var x = d3.scaleLinear().domain([0, 14]).range([x0, x0 + panelW]);
  var yL = d3.scaleLinear().domain(leftDomain[p.row]).range([y0, y0 + ph]);
  var yR = d3.scaleLinear().domain(rightDomain[p.row]).range([y0, y0 + ph]);
  var g = svg.append("g").attr("class", "panel-" + p.id);

  // grid
  g.append("g").selectAll("line").data(ageTicks.slice(1, -1)).join("line")
    .attr("x1", function(d) { return x(d); }).attr("x2", function(d) { return x(d); })
    .attr("y1", y0).attr("y2", y0 + ph)
    .attr("stroke", gridBlue).attr("stroke-width", 1.2);
  g.append("g").selectAll("line").data(leftTicks[p.row].slice(1, -1)).join("line")
    .attr("x1", x0).attr("x2", x0 + panelW)
    .attr("y1", function(d) { return yL(d); }).attr("y2", function(d) { return yL(d); })
    .attr("stroke", gridBlue).attr("stroke-width", 1.2);

  // stalagmite records
  var line = d3.line().x(function(d) { return x(d[0]); }).y(function(d) { return yL(d[1]); });
  g.append("path").datum(lineHR[p.row]).attr("d", line)
    .attr("fill", "none").attr("stroke", lineBlue).attr("stroke-width", 1).attr("stroke-linejoin", "round");
  g.append("path").datum(lineMA[p.row]).attr("d", line)
    .attr("fill", "none").attr("stroke", lineBlack).attr("stroke-width", 1.8).attr("stroke-linejoin", "round");

  // marine points (top / right axes)
  g.append("g").selectAll("circle").data(p.pts).join("circle")
    .attr("cx", function(d) { return x(d[0]); })
    .attr("cy", function(d) { return yR(d[1]); })
    .attr("r", 2.9).attr("fill", dotRed);

  // axes
  var bottom = g.append("g").attr("transform", "translate(0," + (y0 + ph) + ")")
    .call(d3.axisBottom(x).tickValues(ageTicks).tickSize(6).tickSizeOuter(0)
      .tickPadding(p.row === 0 ? 5 : 9));
  styleAxis(bottom, "#000", 18);

  var top = g.append("g").attr("transform", "translate(0," + y0 + ")")
    .call(d3.axisTop(x).tickValues(ageTicks).tickSize(6).tickSizeOuter(0).tickPadding(6));
  styleAxis(top, red, 18);

  var left = g.append("g").attr("transform", "translate(" + x0 + ",0)")
    .call(d3.axisLeft(yL).tickValues(leftTicks[p.row]).tickSize(8).tickSizeOuter(0)
      .tickPadding(p.row === 0 ? 10 : 3)
      .tickFormat(p.col === 0 ? fmt1 : ""));
  styleAxis(left, "#000", 17);

  var rfmt = function(v) {
    if (p.col !== 2) return "";
    if (p.row === 0) return Number.isInteger(v) ? fmt1(v) : "";
    return v % 2 === 0 ? fmt1(v) : "";
  };
  var right = g.append("g").attr("transform", "translate(" + (x0 + panelW) + ",0)")
    .call(d3.axisRight(yR).tickValues(rightTicks[p.row]).tickSize(6).tickSizeOuter(0).tickFormat(rfmt));
  styleAxis(right, red, 18);
  right.selectAll(".tick text").attr("text-anchor", "end").attr("x", 1381 - (x0 + panelW)).attr("dy", "0.45em");

  // legend
  var L = p.leg;
  g.append("text").attr("x", x0 + L.sx).attr("y", y0 + L.sy).attr("font-size", 19).text("Sofular Cave");
  [["5-point moving average", lineBlack], ["high resolution", lineBlue]].forEach(function(it, i) {
    var ly = y0 + L.ly + i * 22.5;
    g.append("line").attr("x1", x0 + L.lx).attr("x2", x0 + L.lx + 22).attr("y1", ly).attr("y2", ly)
      .attr("stroke", it[1]).attr("stroke-width", 1.6);
    g.append("text").attr("x", x0 + L.tx).attr("y", ly + 6).attr("font-size", 19).text(it[0]);
  });

  // panel letter
  g.append("text").attr("x", x0 + 9).attr("y", y0 + ph - 8.5).attr("font-size", 35).text(p.id);

  // annotations
  p.notes.forEach(function(n) {
    var nx = x(n.t), ny = yL(n.v);
    if (n.k === "c") {
      g.append("circle").attr("cx", nx).attr("cy", ny).attr("r", 15.5)
        .attr("fill", "none").attr("stroke", red).attr("stroke-width", 1.6);
      g.append("text").attr("x", nx).attr("y", ny + 7.5).attr("text-anchor", "middle")
        .attr("font-size", 21).attr("fill", red).text(n.s);
    } else if (n.k === "t") {
      g.append("text").attr("x", nx).attr("y", ny + 7.5).attr("text-anchor", "middle")
        .attr("font-size", 21).attr("fill", red).text(n.s);
    } else {
      g.append("text").attr("x", nx).attr("y", ny).attr("text-anchor", "end")
        .attr("font-size", 19).text(n.s);
    }
  });

  // bottom axis title key (two short strokes)
  g.append("line").attr("x1", x0 + 42.6).attr("x2", x0 + 66).attr("y1", 809).attr("y2", 809)
    .attr("stroke", lineBlack).attr("stroke-width", 1.6);
  g.append("line").attr("x1", x0 + 42.6).attr("x2", x0 + 66).attr("y1", 813.5).attr("y2", 813.5)
    .attr("stroke", lineBlue).attr("stroke-width", 1.6);
}

panels.forEach(drawPanel);

// bottom titles
colX.forEach(function(cx) {
  richText(svg, cx + 197, 817, 24.5, "#000", "middle",
    [{s: "Atmospheric "}, {s: "14", sup: true}, {s: "C age"}]);
});

// top titles
richText(svg, 276, 61, 22.5, red, "middle",
  [{s: "\u2022 Uncorrected marine "}, {s: "14", sup: true}, {s: "C age (ka)"}]);
richText(svg, 732, 29, 22.5, red, "middle",
  [{s: "\u2022 Corrected marine "}, {s: "14", sup: true}, {s: "C age (ka)"}]);
richText(svg, 708, 61, 22.5, red, "middle",
  [{s: "(Yanchilina "}, {s: "R", it: true}, {s: " values)"}]);
richText(svg, 1134, 29, 22.5, red, "middle",
  [{s: "\u2022 Corrected marine "}, {s: "14", sup: true}, {s: "C age (ka)"}]);
richText(svg, 1112, 61, 22.5, red, "middle",
  [{s: "(this paper "}, {s: "R", it: true}, {s: " values)"}]);

// isotope labels with arrows
function isoLabel(x, y, color, anchor, iso, el, ax, ay1, ay2) {
  richText(svg, x, y, 25, color, anchor, [{s: "\u03b4"}, {s: iso, sup: true}, {s: el}]);
  svg.append("line").attr("x1", ax).attr("x2", ax).attr("y1", ay1).attr("y2", ay2 - 6)
    .attr("stroke", color).attr("stroke-width", 1.6);
  svg.append("path")
    .attr("d", "M" + (ax - 4.5) + "," + (ay2 - 10) + "L" + (ax + 4.5) + "," + (ay2 - 10) + "L" + ax + "," + ay2 + "Z")
    .attr("fill", color);
}
isoLabel(23, 60, "#000", "start", "13", "C", 43.3, 65, 84);
isoLabel(1381, 60, red, "end", "13", "C", 1359.5, 65, 86);
isoLabel(22, 438, "#000", "start", "18", "O", 43.3, 443, 467);
isoLabel(1382, 437, red, "end", "18", "O", 1359.5, 443, 467);
</script>
</body>
</html>
